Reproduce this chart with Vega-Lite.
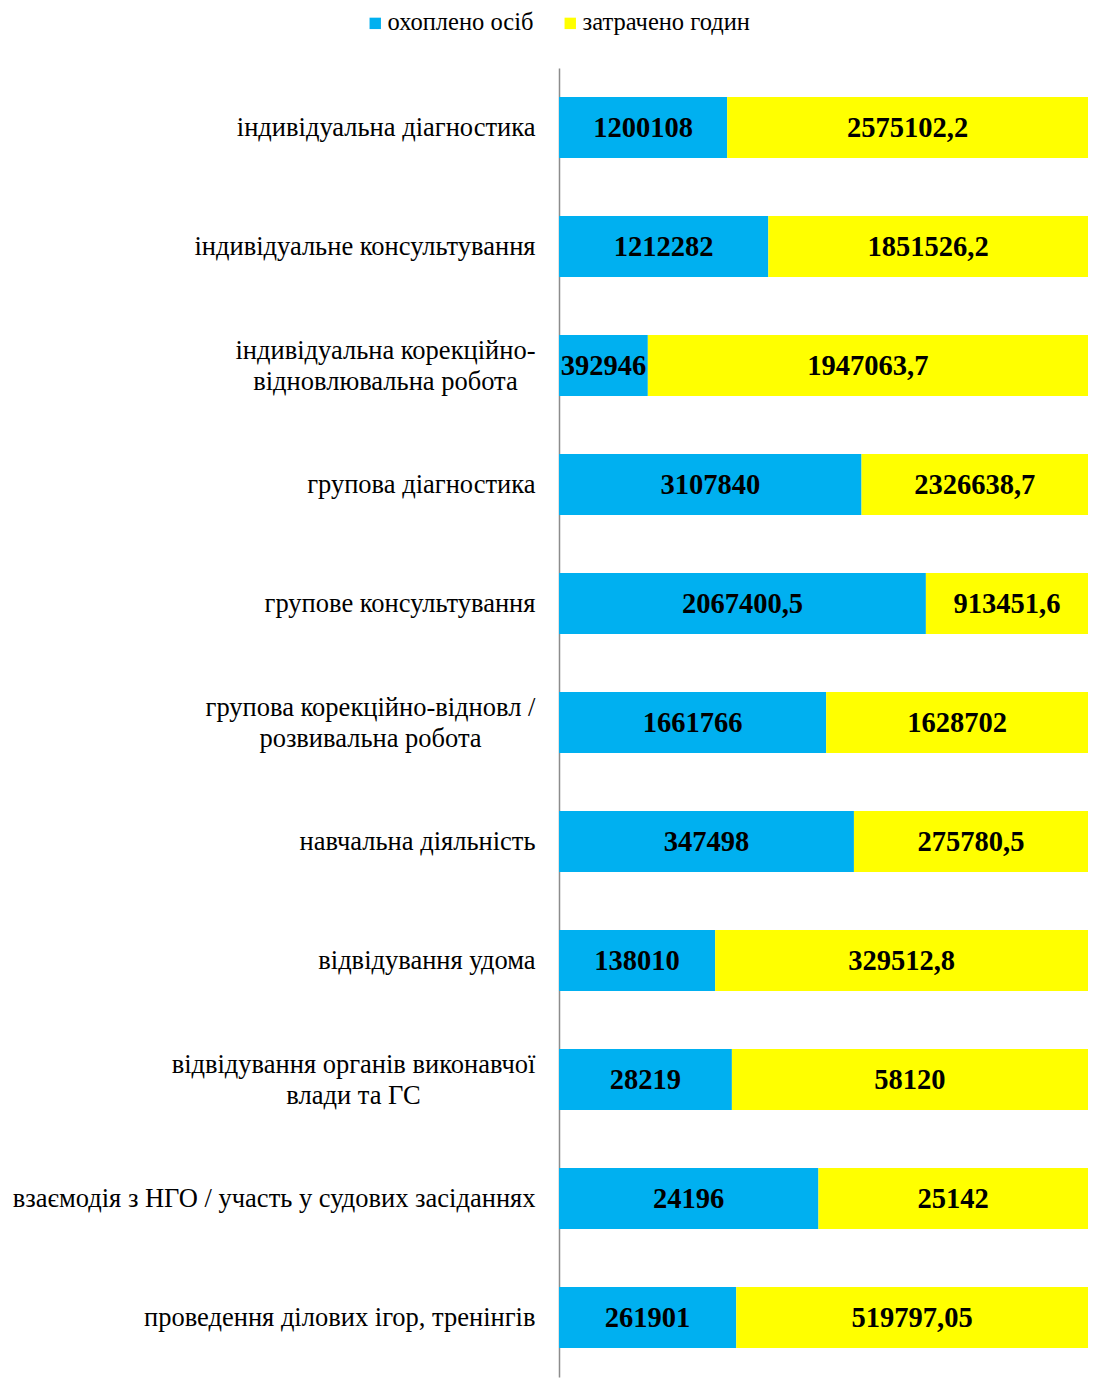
{
  "$schema": "https://vega.github.io/schema/vega-lite/v6.json",
  "width": 529,
  "height": 1309,
  "autosize": {"type": "none"},
  "padding": {"left": 559, "top": 68, "right": 12, "bottom": 19},
  "background": "white",
  "config": {"view": {"stroke": null}, "font": "Liberation Serif"},
  "data": {"values": [
    {"cat": "індивідуальна діагностика", "series": "охоплено осіб", "ord": 1, "value": 1200108, "label": "1200108"},
    {"cat": "індивідуальна діагностика", "series": "затрачено годин", "ord": 2, "value": 2575102.2, "label": "2575102,2"},
    {"cat": "індивідуальне консультування", "series": "охоплено осіб", "ord": 1, "value": 1212282, "label": "1212282"},
    {"cat": "індивідуальне консультування", "series": "затрачено годин", "ord": 2, "value": 1851526.2, "label": "1851526,2"},
    {"cat": "індивідуальна корекційно-|відновлювальна робота", "series": "охоплено осіб", "ord": 1, "value": 392946, "label": "392946"},
    {"cat": "індивідуальна корекційно-|відновлювальна робота", "series": "затрачено годин", "ord": 2, "value": 1947063.7, "label": "1947063,7"},
    {"cat": "групова діагностика", "series": "охоплено осіб", "ord": 1, "value": 3107840, "label": "3107840"},
    {"cat": "групова діагностика", "series": "затрачено годин", "ord": 2, "value": 2326638.7, "label": "2326638,7"},
    {"cat": "групове консультування", "series": "охоплено осіб", "ord": 1, "value": 2067400.5, "label": "2067400,5"},
    {"cat": "групове консультування", "series": "затрачено годин", "ord": 2, "value": 913451.6, "label": "913451,6"},
    {"cat": "групова корекційно-відновл /|розвивальна робота", "series": "охоплено осіб", "ord": 1, "value": 1661766, "label": "1661766"},
    {"cat": "групова корекційно-відновл /|розвивальна робота", "series": "затрачено годин", "ord": 2, "value": 1628702, "label": "1628702"},
    {"cat": "навчальна діяльність", "series": "охоплено осіб", "ord": 1, "value": 347498, "label": "347498"},
    {"cat": "навчальна діяльність", "series": "затрачено годин", "ord": 2, "value": 275780.5, "label": "275780,5"},
    {"cat": "відвідування удома", "series": "охоплено осіб", "ord": 1, "value": 138010, "label": "138010"},
    {"cat": "відвідування удома", "series": "затрачено годин", "ord": 2, "value": 329512.8, "label": "329512,8"},
    {"cat": "відвідування органів виконавчої|влади та ГС", "series": "охоплено осіб", "ord": 1, "value": 28219, "label": "28219"},
    {"cat": "відвідування органів виконавчої|влади та ГС", "series": "затрачено годин", "ord": 2, "value": 58120, "label": "58120"},
    {"cat": "взаємодія з НГО / участь у судових засіданнях", "series": "охоплено осіб", "ord": 1, "value": 24196, "label": "24196"},
    {"cat": "взаємодія з НГО / участь у судових засіданнях", "series": "затрачено годин", "ord": 2, "value": 25142, "label": "25142"},
    {"cat": "проведення ділових ігор, тренінгів", "series": "охоплено осіб", "ord": 1, "value": 261901, "label": "261901"},
    {"cat": "проведення ділових ігор, тренінгів", "series": "затрачено годин", "ord": 2, "value": 519797.05, "label": "519797,05"}
  ]},
  "encoding": {
    "y": {
      "field": "cat", "type": "nominal", "sort": null, "title": null,
      "scale": {"paddingInner": 0.487, "paddingOuter": 0.2435},
      "axis": {
        "labelExpr": "split(datum.label, '|')",
        "labelFont": "Liberation Serif", "labelFontSize": 26.5, "labelColor": "#000000",
        "labelLimit": 700, "labelLineHeight": 31,
        "labelAlign": {"condition": {"test": "indexof(datum.value, '|') >= 0", "value": "center"}, "value": "right"},
        "labelOffset": {"condition": {"test": "indexof(datum.value, '|') >= 0", "value": -15}, "value": 0},
        "labelPadding": {"condition": [
          {"test": "indexof(datum.value, 'індивідуальна корекційно') == 0", "value": 174},
          {"test": "indexof(datum.value, 'групова корекційно') == 0", "value": 189},
          {"test": "indexof(datum.value, 'відвідування органів') == 0", "value": 206}
        ], "value": 24},
        "ticks": false, "domainColor": "#8c8c8c", "domainWidth": 1.5
      }
    }
  },
  "layer": [
    {
      "mark": {"type": "bar"},
      "encoding": {
        "x": {"field": "value", "type": "quantitative", "stack": "normalize", "axis": null},
        "color": {
          "field": "series", "type": "nominal",
          "scale": {"domain": ["охоплено осіб", "затрачено годин"], "range": ["#00B0F0", "#FFFF00"]},
          "legend": {
            "title": null, "orient": "none", "direction": "horizontal",
            "legendX": -196, "legendY": -57,
            "symbolType": "square", "symbolSize": 130, "symbolStrokeWidth": 0,
            "labelFont": "Liberation Serif", "labelFontSize": 24.5, "labelColor": "#000000",
            "labelOffset": 0, "columnPadding": 24, "labelLimit": 400
          }
        },
        "order": {"field": "ord", "type": "quantitative"}
      }
    },
    {
      "mark": {"type": "text", "font": "Liberation Serif", "fontSize": 28.5, "fontWeight": "bold", "color": "#000000", "baseline": "middle", "align": "center"},
      "encoding": {
        "x": {"field": "value", "type": "quantitative", "stack": "normalize", "bandPosition": 0.5},
        "detail": {"field": "series", "type": "nominal"},
        "order": {"field": "ord", "type": "quantitative"},
        "text": {"field": "label", "type": "nominal"}
      }
    }
  ]
}
